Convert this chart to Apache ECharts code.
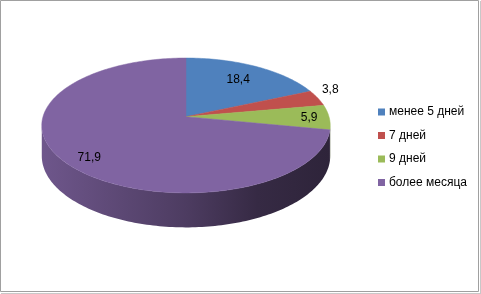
<!DOCTYPE html>
<html>
<head>
<meta charset="utf-8">
<script src="https://cdn.jsdelivr.net/npm/echarts@6/dist/echarts.min.js"></script>
<style>
html,body{margin:0;padding:0;background:#fff;}
#chart{width:481px;height:294px;}
</style>
</head>
<body>
<div id="chart"></div>
<script>
// ---- data ----
const categories = ['менее 5 дней', '7 дней', '9 дней', 'более месяца'];
const values = [18.4, 3.8, 5.9, 71.9];
const colors = ['#4F81BD', '#C0504D', '#9BBB59', '#8064A2'];

// ---- layout (not data) ----
const geo = { cx: 186, cy: 116.7, rx: 143, ry: 66.3, k: 0.13, depth: 30 };
// label placement: [radius factor, dx, dy]
const labelPlace = [[0.72, 0, 0], [1.13, -4, -6], [0.86, 0, 0], [0.84, 3, 3]];

const total = values.reduce((s, v) => s + v, 0);
const starts = [];
(function () { let acc = 0; values.forEach(v => { starts.push(acc); acc += v; }); })();

function proj(phi, r) {
  const den = 1 + geo.k * r * Math.cos(phi);
  return [geo.cx + geo.rx * r * Math.sin(phi) / den, geo.cy - geo.ry * r * Math.cos(phi) / den, den];
}
function shade(hex, f) {
  const n = parseInt(hex.slice(1), 16);
  const r = Math.round(((n >> 16) & 255) * f), g = Math.round(((n >> 8) & 255) * f), b = Math.round((n & 255) * f);
  return 'rgb(' + r + ',' + g + ',' + b + ')';
}
const phiS = Math.acos(-geo.k);

function makeRender(idx) {
  return function (params, api) {
    const v = api.value(0);
    const a0 = starts[idx] / total * 2 * Math.PI;
    const a1 = a0 + v / total * 2 * Math.PI;
    const children = [];
    // side wall (visible front part)
    const s0 = Math.max(a0, phiS), s1 = Math.min(a1, 2 * Math.PI - phiS);
    if (s1 > s0) {
      const topPts = [], botPts = [];
      const n = Math.max(4, Math.ceil((s1 - s0) / 0.02));
      for (let i = 0; i <= n; i++) {
        const ph = s0 + (s1 - s0) * i / n;
        const p = proj(ph, 1);
        topPts.push([p[0], p[1]]);
        botPts.push([p[0], p[1] + geo.depth / p[2]]);
      }
      const base = colors[idx];
      children.push({
        type: 'polygon',
        shape: { points: topPts.concat(botPts.reverse()) },
        style: {
          fill: {
            type: 'linear', global: true,
            x: geo.cx - geo.rx, y: 0, x2: geo.cx + geo.rx, y2: 0,
            colorStops: [
              { offset: 0, color: shade(base, 0.86) },
              { offset: 0.5, color: shade(base, 0.6) },
              { offset: 0.75, color: shade(base, 0.42) },
              { offset: 1, color: shade(base, 0.36) }
            ]
          },
          stroke: null
        }
      });
    }
    // top face
    const pts = [[geo.cx, geo.cy]];
    const n2 = Math.max(4, Math.ceil((a1 - a0) / 0.02));
    for (let i = 0; i <= n2; i++) {
      const p = proj(a0 + (a1 - a0) * i / n2, 1);
      pts.push([p[0], p[1]]);
    }
    children.push({
      type: 'polygon',
      shape: { points: pts },
      style: { fill: colors[idx], stroke: colors[idx], lineWidth: 0.5 }
    });
    // label
    const lp = labelPlace[idx];
    const pm = proj((a0 + a1) / 2, lp[0]);
    children.push({
      type: 'text',
      z2: 10,
      x: pm[0] + lp[1], y: pm[1] + lp[2],
      style: {
        text: String(v).replace('.', ','),
        fill: '#000',
        font: '12px "Liberation Sans", Arial, sans-serif',
        align: 'center', verticalAlign: 'middle'
      }
    });
    return { type: 'group', children: children };
  };
}

const series = categories.map((name, i) => ({
  type: 'custom',
  name: name,
  coordinateSystem: 'none',
  silent: true,
  itemStyle: { color: colors[i] },
  data: [[values[i]]],
  renderItem: makeRender(i),
  z: 2
}));

const chart = echarts.init(document.getElementById('chart'), null, { renderer: 'canvas' });
chart.setOption({
  backgroundColor: '#fff',
  animation: false,
  legend: {
    data: categories,
    orient: 'vertical',
    left: 373,
    top: 101,
    icon: 'rect',
    itemWidth: 7,
    itemHeight: 7,
    itemGap: 11.5,
    textStyle: { color: '#000', fontSize: 12, fontFamily: '"Liberation Sans", Arial, sans-serif', padding: [0, 0, 0, -1] }
  },
  graphic: [
    { type: 'rect', shape: { x: 0.5, y: 0.5, width: 478, height: 291 }, style: { fill: null, stroke: '#a0a0a0', lineWidth: 1 }, silent: true },
    { type: 'line', shape: { x1: 480.5, y1: 1, x2: 480.5, y2: 294 }, style: { stroke: '#c8c8c8', lineWidth: 1 }, silent: true },
    { type: 'line', shape: { x1: 1, y1: 293.5, x2: 481, y2: 293.5 }, style: { stroke: '#c8c8c8', lineWidth: 1 }, silent: true }
  ],
  series: series
});
</script>
</body>
</html>
